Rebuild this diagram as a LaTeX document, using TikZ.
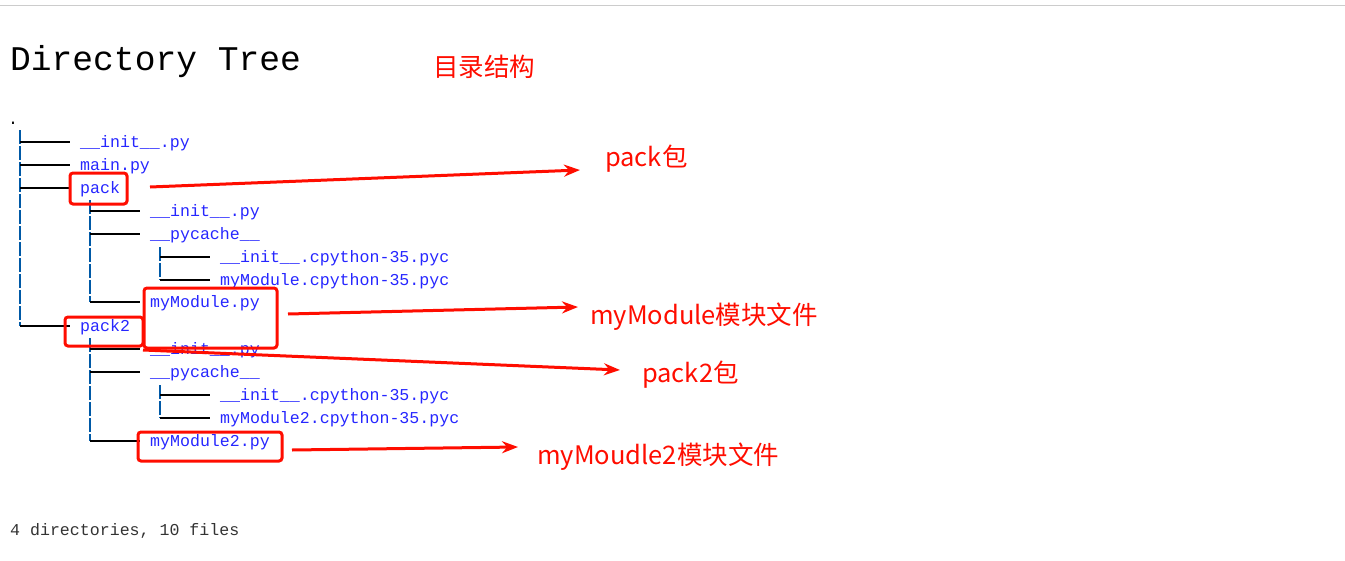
\documentclass[tikz,border=0pt]{standalone}
\usepackage{fontspec}
\setmonofont{Liberation Mono}
\newfontfamily\cjk{Noto Sans CJK SC}
\usetikzlibrary{arrows.meta}
\tikzset{
  file/.style={anchor=base west,inner sep=0pt,text=blue!85!white,font=\ttfamily\fontsize{16.6}{16.6}\selectfont},
  note/.style={anchor=base west,inner sep=0pt,text=red!90!orange,font=\cjk\fontsize{25.5}{25.5}\selectfont},
  mark box/.style={draw=red!90!orange,line width=3pt,rounded corners=3pt},
  pointer/.style={draw=red!90!orange,line width=3pt,-{Stealth[length=16pt,width=12pt]}},
  branch/.style={line width=1.2pt},
  trunk/.style={line width=1.6pt,draw=teal!70!blue,dash pattern=on 14pt off 2pt}
}
\begin{document}
\begin{tikzpicture}[x=1pt,y=-1pt]
\useasboundingbox (0,0) rectangle (1345,560);
\draw[gray!40,line width=1pt] (0,5) -- (1345,5);
% title
\node[anchor=base west,inner sep=0pt,font=\ttfamily\fontsize{34.6}{34.6}\selectfont] (title) at (10,70) {Directory Tree};
\node[note] (tnote) at (433,76) {目录结构};
\node[anchor=base west,inner sep=0pt,font=\ttfamily\fontsize{16.6}{16.6}\selectfont] (root) at (8,124) {.};
% files
\node[file] (f1) at (80,147) {\_\_init\_\_.py};
\node[file] (f2) at (80,170) {main.py};
\node[file] (pack) at (80,193) {pack};
\node[file] (f4) at (150,216) {\_\_init\_\_.py};
\node[file] (f5) at (150,239) {\_\_pycache\_\_};
\node[file] (f6) at (220,262) {\_\_init\_\_.cpython-35.pyc};
\node[file] (f7) at (220,285) {myModule.cpython-35.pyc};
\node[file] (mod) at (150,307) {myModule.py};
\node[file] (pack2) at (80,331) {pack2};
\node[file] (f10) at (150,354) {\_\_init\_\_.py};
\node[file] (f11) at (150,377) {\_\_pycache\_\_};
\node[file] (f12) at (220,400) {\_\_init\_\_.cpython-35.pyc};
\node[file] (f13) at (220,423) {myModule2.cpython-35.pyc};
\node[file] (mod2) at (150,446) {myModule2.py};
% tree lines
\draw[trunk] (20,130) -- (20,326);
\draw[trunk] (90,200) -- (90,302);
\draw[trunk] (90,338) -- (90,441);
\draw[trunk] (160,247) -- (160,280);
\draw[trunk] (160,385) -- (160,418);
\foreach \y in {142,165,188,326} \draw[branch] (20,\y) -- (70,\y);
\foreach \y in {211,234,302,349,372,441} \draw[branch] (90,\y) -- (140,\y);
\foreach \y in {257,280,395,418} \draw[branch] (160,\y) -- (210,\y);
% boxes
\draw[mark box] (70,173) rectangle (127,204);
\coordinate (packR) at (150,187);
\draw[mark box] (144,288) rectangle (277,348);
\coordinate (modR) at (288,314);
\draw[mark box] (65,317) rectangle (143,346);
\coordinate (pack2R) at (143,350);
\draw[mark box] (138,432) rectangle (282,461);
\coordinate (mod2R) at (292,450);
% notes
\node[note] (n1) at (605,166) {pack包};
\node[note] (n2) at (590,324) {myModule模块文件};
\node[note] (n3) at (642,382) {pack2包};
\node[note] (n4) at (537,464) {myMoudle2模块文件};
\draw[pointer] (packR) -- (580,170);
\draw[pointer] (modR) -- (578,307);
\draw[pointer] (pack2R) -- (620,370);
\draw[pointer] (mod2R) -- (518,447);
\node[anchor=base west,inner sep=0pt,text=black!80,font=\ttfamily\fontsize{16.6}{16.6}\selectfont] (sum) at (10,535) {4 directories, 10 files};
\end{tikzpicture}
\end{document}
